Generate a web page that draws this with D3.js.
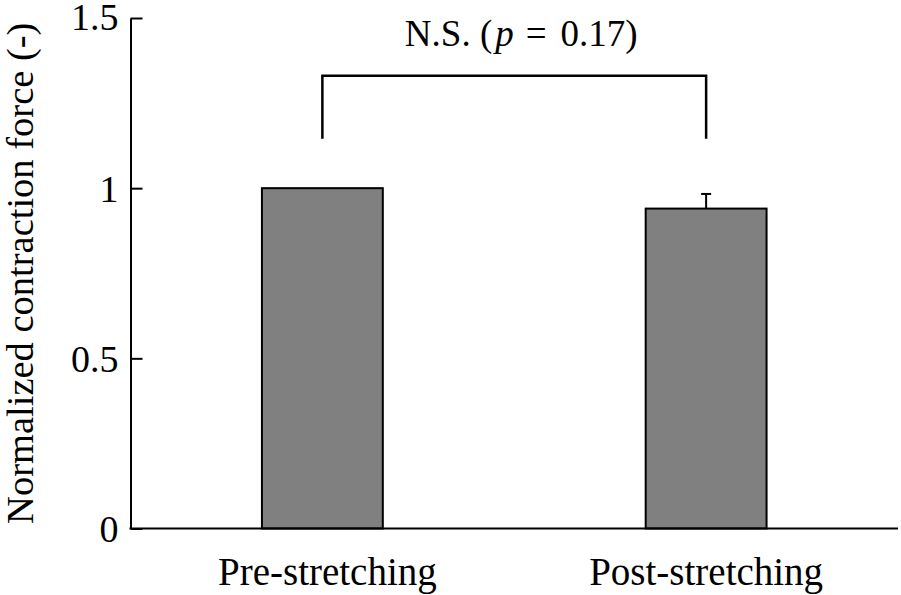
<!DOCTYPE html>
<html>
<head>
<meta charset="utf-8">
<script src="https://cdn.jsdelivr.net/npm/d3@7"></script>
<style>
  html, body { margin: 0; padding: 0; background: #fff; }
  svg { display: block; }
  text { font-family: "Liberation Serif", "Times New Roman", serif; fill: #000; }
</style>
</head>
<body>
<svg id="chart" width="901" height="595"></svg>
<script>
// ---- data ----
const categories = ["Pre-stretching", "Post-stretching"];
const values = [1.0, 0.94];
const errors = [0, 0.043];
const yTicks = [0, 0.5, 1, 1.5];
const yTickLabels = ["0", "0.5", "1", "1.5"];
const yLabel = "Normalized contraction force (-)";
const bracketLevels = [1.145, 1.33]; // bottom of legs, top bar
const annotationParts = ["N.S. (", "p", "=", "0.17)"];

// ---- layout ----
const x0 = 130.5, x1 = 898, yTop = 18, yBottom = 528.5;

const svg = d3.select("#chart");

const x = d3.scaleBand()
  .domain(categories)
  .range([x0, x1])
  .paddingInner(0.685)
  .paddingOuter(0.3425);

const y = d3.scaleLinear().domain([0, 1.5]).range([yBottom, yTop]);

// bars
svg.append("g").selectAll("rect")
  .data(categories)
  .join("rect")
  .attr("x", d => x(d))
  .attr("y", (d, i) => y(values[i]))
  .attr("width", x.bandwidth())
  .attr("height", (d, i) => y(0) - y(values[i]))
  .attr("fill", "#808080")
  .attr("stroke", "#000")
  .attr("stroke-width", 2);

// error bars
const eg = svg.append("g");
categories.forEach((c, i) => {
  if (errors[i] <= 0) return;
  const cx = x(c) + x.bandwidth() / 2;
  eg.append("line")
    .attr("x1", cx).attr("x2", cx)
    .attr("y1", y(values[i])).attr("y2", y(values[i] + errors[i]))
    .attr("stroke", "#000").attr("stroke-width", 2);
  eg.append("line")
    .attr("x1", cx - 5).attr("x2", cx + 5)
    .attr("y1", y(values[i] + errors[i])).attr("y2", y(values[i] + errors[i]))
    .attr("stroke", "#000").attr("stroke-width", 2);
});

// y axis (ticks pointing inward)
const yAxis = d3.axisRight(y)
  .tickValues(yTicks)
  .tickFormat((d, i) => yTickLabels[i])
  .tickSize(12)
  .tickSizeOuter(0);
const yg = svg.append("g").attr("transform", `translate(${x0},0)`).call(yAxis);
yg.select(".domain").attr("stroke", "#000").attr("stroke-width", 2);
yg.selectAll(".tick line").attr("stroke", "#000").attr("stroke-width", 2);
yg.selectAll(".tick text")
  .attr("x", -12)
  .attr("dy", d => d === 1.5 ? "0.3em" : "0.34em")
  .attr("text-anchor", "end")
  .style("font-family", "'Liberation Serif', serif")
  .style("font-size", "38px");

// x axis
const xAxis = d3.axisBottom(x).tickSize(0).tickSizeOuter(0);
const xg = svg.append("g").attr("transform", `translate(0,${yBottom})`).call(xAxis);
xg.select(".domain").attr("stroke", "#000").attr("stroke-width", 2)
  .attr("d", `M${x0 - 1},0H${x1}`);
xg.selectAll(".tick text")
  .attr("y", 0)
  .attr("dy", "56px")
  .attr("dx", (d, i) => i === 0 ? 5 : 0)
  .style("font-family", "'Liberation Serif', serif")
  .style("font-size", "39px");

// y label
svg.append("text")
  .attr("transform", `translate(33,${(yTop + yBottom) / 2}) rotate(-90)`)
  .attr("text-anchor", "middle")
  .style("font-size", "38.5px")
  .text(yLabel);

// significance bracket
const bx1 = x(categories[0]) + x.bandwidth() / 2;
const bx2 = x(categories[1]) + x.bandwidth() / 2;
svg.append("path")
  .attr("d", `M${bx1},${y(bracketLevels[0])}V${y(bracketLevels[1])}H${bx2}V${y(bracketLevels[0])}`)
  .attr("fill", "none")
  .attr("stroke", "#000")
  .attr("stroke-width", 2.5);

const t = svg.append("text")
  .attr("x", (bx1 + bx2) / 2 + 7)
  .attr("y", 46)
  .attr("text-anchor", "middle")
  .style("font-size", "37px");
t.append("tspan").text(annotationParts[0]);
t.append("tspan").attr("dx", 3).style("font-style", "italic").text(annotationParts[1]);
t.append("tspan").attr("dx", 12).text(annotationParts[2]);
t.append("tspan").attr("dx", 14).text(annotationParts[3]);
</script>
</body>
</html>
